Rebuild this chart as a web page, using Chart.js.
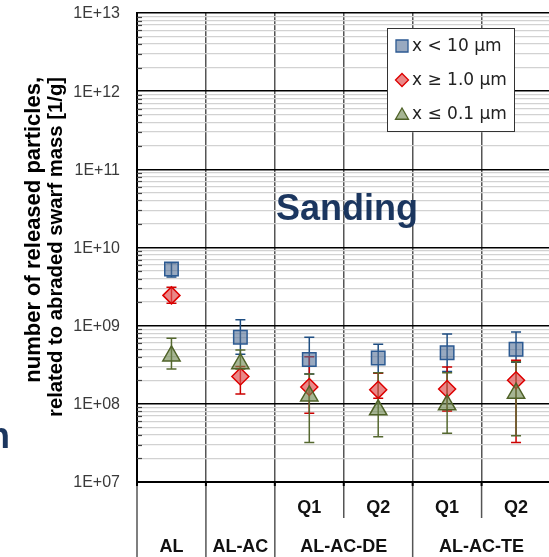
<!DOCTYPE html>
<html>
<head>
<meta charset="utf-8">
<script src="https://cdn.jsdelivr.net/npm/chart.js@4.4.0/dist/chart.umd.min.js"></script>
<style>
  html, body { margin: 0; padding: 0; background: #fff; overflow: hidden; }
  #wrap { position: absolute; left: 0; top: 0; width: 562px; height: 557px; }
</style>
</head>
<body>
<div id="wrap"><canvas id="chart" width="562" height="557"></canvas></div>
<script>
const categories = ['AL', 'AL-AC', 'AL-AC-DE Q1', 'AL-AC-DE Q2', 'AL-AC-TE Q1', 'AL-AC-TE Q2'];
const subLabels = ['', '', 'Q1', 'Q2', 'Q1', 'Q2'];
const groupLabels = ['AL', 'AL-AC', 'AL-AC-DE', 'AL-AC-TE'];
const groupSpans = [[0, 0], [1, 1], [2, 3], [4, 5]];

const seriesNames = ['x < 10 µm', 'x ≥ 1.0 µm', 'x ≤ 0.1 µm'];

// x < 10 µm
const below10 = [5.3e9, 7.1e8, 3.7e8, 3.85e8, 4.5e8, 5.0e8];
const below10Hi = [6.4e9, 1.19e9, 7.1e8, 5.8e8, 7.8e8, 8.3e8];
const below10Lo = [4.2e9, 4.3e8, 2.4e8, 2.5e8, 2.6e8, 3.4e8];

// x >= 1.0 µm
const above1 = [2.44e9, 2.24e8, 1.64e8, 1.51e8, 1.55e8, 2.0e8];
const above1Hi = [3.1e9, 3.0e8, 4.0e8, 2.46e8, 2.95e8, 3.6e8];
const above1Lo = [1.94e9, 1.34e8, 7.6e7, 1.18e8, 8.1e7, 3.2e7];

// x <= 0.1 µm
const below01 = [4.1e8, 3.26e8, 1.26e8, 8.4e7, 9.7e7, 1.37e8];
const below01Hi = [6.9e8, 4.9e8, 2.4e8, 2.5e8, 2.5e8, 3.45e8];
const below01Lo = [2.8e8, 2.8e8, 3.2e7, 3.8e7, 4.2e7, 3.9e7];

const decadeTicks = [1e7, 1e8, 1e9, 1e10, 1e11, 1e12, 1e13];
const decadeLabels = ['1E+07', '1E+08', '1E+09', '1E+10', '1E+11', '1E+12', '1E+13'];

// all log ticks: 1..9 per decade
const allTicks = [];
for (let i = 0; i < decadeTicks.length - 1; i++) {
    for (let m = 1; m <= 9; m++) allTicks.push(m * decadeTicks[i]);
}
allTicks.push(decadeTicks[decadeTicks.length - 1]);

function decadeIndex(v) {
    return decadeTicks.findIndex(d => Math.abs(v / d - 1) < 1e-9);
}

const FONT = "'Liberation Sans', Arial, sans-serif";

/* ---------- error bars ---------- */
const errorBars = {
    id: 'errorBars',
    beforeDatasetsDraw(chart) {
        const { ctx, scales: { x, y } } = chart;
        chart.data.datasets.forEach(ds => {
            ctx.save();
            ctx.strokeStyle = ds.errColor;
            ctx.lineWidth = 1.5;
            ds.data.forEach((v, j) => {
                const px = x.getPixelForValue(j);
                const top = y.getPixelForValue(ds.errHi[j]);
                const bot = y.getPixelForValue(ds.errLo[j]);
                ctx.beginPath();
                ctx.moveTo(px, top); ctx.lineTo(px, bot);
                ctx.moveTo(px - 5, top); ctx.lineTo(px + 5, top);
                ctx.moveTo(px - 5, bot); ctx.lineTo(px + 5, bot);
                ctx.stroke();
            });
            ctx.restore();
        });
    }
};

/* ---------- texts, legend, category axis ---------- */
const decorations = {
    id: 'decorations',
    afterDraw(chart) {
        const { ctx, chartArea: area, scales: { x, y } } = chart;
        ctx.save();

        // minor tick marks inside the left axis
        ctx.strokeStyle = '#444';
        ctx.lineWidth = 1.2;
        allTicks.forEach(v => {
            if (decadeIndex(v) >= 0) return;
            const py = Math.round(y.getPixelForValue(v)) + 0.5;
            ctx.beginPath();
            ctx.moveTo(area.left, py); ctx.lineTo(area.left + 5, py);
            ctx.stroke();
        });

        // decade labels
        ctx.fillStyle = '#3a3a3a';
        ctx.font = `16px ${FONT}`;
        ctx.textAlign = 'right';
        ctx.textBaseline = 'middle';
        decadeTicks.forEach((d, k) => {
            ctx.fillText(decadeLabels[k], area.left - 17, y.getPixelForValue(d) + 1);
        });

        // category separators below the axis
        const boundary = j => j === 0 ? area.left
            : (x.getPixelForValue(j - 1) + x.getPixelForValue(j)) / 2;
        ctx.strokeStyle = '#555';
        ctx.lineWidth = 1.5;
        for (let j = 0; j < categories.length; j++) {
            const full = groupSpans.some(s => s[0] === j);
            const bx = boundary(j);
            ctx.beginPath();
            ctx.moveTo(bx, area.bottom);
            ctx.lineTo(bx, full ? 557 : 518);
            ctx.stroke();
        }
        ctx.strokeStyle = '#000';
        ctx.lineWidth = 2;
        for (let j = 0; j <= categories.length; j++) {
            const bx = j === categories.length ? area.right : boundary(j);
            ctx.beginPath();
            ctx.moveTo(bx, area.bottom); ctx.lineTo(bx, area.bottom + 4);
            ctx.stroke();
        }

        // category labels
        ctx.fillStyle = '#111';
        ctx.font = `bold 18px ${FONT}`;
        ctx.textAlign = 'center';
        ctx.textBaseline = 'alphabetic';
        subLabels.forEach((t, j) => {
            if (t) ctx.fillText(t, x.getPixelForValue(j), 513);
        });
        groupLabels.forEach((t, g) => {
            const [a, b] = groupSpans[g];
            const cx = (x.getPixelForValue(a) + x.getPixelForValue(b)) / 2;
            ctx.fillText(t, cx, 552);
        });

        // y axis title
        ctx.save();
        ctx.translate(40, 77);
        ctx.rotate(-Math.PI / 2);
        ctx.textAlign = 'right';
        ctx.fillStyle = '#000';
        ctx.font = `bold 22px ${FONT}`;
        ctx.fillText('number of released particles,', 0, 0, 308);
        ctx.font = `bold 21px ${FONT}`;
        ctx.fillText('related to abraded swarf mass [1/g]', 0, 22, 340);
        ctx.restore();

        // chart label
        ctx.fillStyle = '#1b365f';
        ctx.font = `bold 36px ${FONT}`;
        ctx.textAlign = 'center';
        ctx.fillText('Sanding', 347, 220);
        ctx.textAlign = 'right';
        ctx.fillText('n', 10, 448);

        // legend
        ctx.fillStyle = '#fff';
        ctx.fillRect(387, 28, 127, 103);
        ctx.strokeStyle = '#333';
        ctx.lineWidth = 1;
        ctx.strokeRect(387.5, 28.5, 127, 103);
        const rows = [46, 80, 114];
        const legendRadius = [8.5, 6.5, 7.5];
        chart.data.datasets.forEach((ds, i) => {
            ctx.fillStyle = ds.backgroundColor;
            ctx.strokeStyle = ds.borderColor;
            ctx.lineWidth = 1.3;
            Chart.helpers.drawPoint(ctx, {
                pointStyle: ds.pointStyle, radius: legendRadius[i], borderWidth: 1.3, rotation: 0
            }, 402, rows[i] + (i === 2 ? 1.5 : 0));
            ctx.fillStyle = '#222';
            ctx.font = "17px 'DejaVu Sans', sans-serif";
            ctx.textAlign = 'left';
            ctx.textBaseline = 'middle';
            ctx.fillText(seriesNames[i], 412, rows[i] + 1);
        });

        ctx.restore();
    }
};

const ctx = document.getElementById('chart').getContext('2d');

new Chart(ctx, {
    type: 'line',
    data: {
        labels: categories,
        datasets: [
            {
                label: seriesNames[0], data: below10, errHi: below10Hi, errLo: below10Lo,
                errColor: '#1f4e82', pointStyle: 'rect', pointRadius: 9.5,
                backgroundColor: 'rgba(84, 112, 150, 0.6)', borderColor: '#2c5a92',
                pointBorderWidth: 1.5, showLine: false, order: 3
            },
            {
                label: seriesNames[1], data: above1, errHi: above1Hi, errLo: above1Lo,
                errColor: '#cc0000', pointStyle: 'rectRot', pointRadius: 8.5,
                backgroundColor: 'rgba(222, 80, 80, 0.68)', borderColor: '#dd0000',
                pointBorderWidth: 1.5, showLine: false, order: 2
            },
            {
                label: seriesNames[2], data: below01, errHi: below01Hi, errLo: below01Lo,
                errColor: '#55682f', pointStyle: 'triangle', pointRadius: 10,
                backgroundColor: 'rgba(112, 136, 80, 0.62)', borderColor: '#4f6228',
                pointBorderWidth: 1.5, showLine: false, order: 1
            }
        ]
    },
    options: {
        responsive: false,
        animation: false,
        layout: { padding: { top: 13, right: 0, left: 0, bottom: 0 } },
        plugins: { legend: { display: false }, tooltip: { enabled: false } },
        scales: {
            x: {
                type: 'category',
                offset: true,
                grid: { offset: true, color: '#555', lineWidth: 1.5, drawTicks: false },
                border: { color: '#000', width: 2 },
                ticks: { display: false },
                afterFit: s => { s.height = 75; }
            },
            y: {
                type: 'logarithmic',
                min: 1e7,
                max: 1e13,
                afterBuildTicks: s => { s.ticks = allTicks.map(v => ({ value: v })); },
                ticks: { display: false },
                grid: {
                    drawTicks: false,
                    color: c => (c.tick && decadeIndex(c.tick.value) >= 0) ? '#000' : '#d2d2d2',
                    lineWidth: c => (c.tick && decadeIndex(c.tick.value) >= 0) ? 1.5 : 1.3
                },
                border: { color: '#000', width: 2 },
                afterFit: s => { s.width = 137; }
            }
        }
    },
    plugins: [errorBars, decorations]
});
</script>
</body>
</html>
